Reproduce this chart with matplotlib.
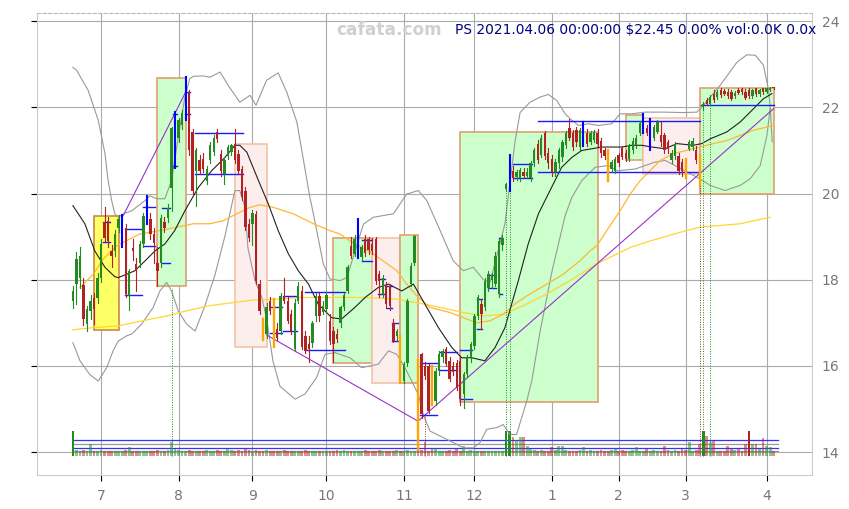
import matplotlib
matplotlib.use('Agg')
import matplotlib.pyplot as plt
import numpy as np
from matplotlib.patches import Rectangle

# ---------------- data ----------------
opens = [17.51,17.90,18.05,17.88,16.98,17.28,17.58,17.58,18.05,19.33,
         19.37,18.67,18.67,19.20,18.79,19.19,17.63,18.74,18.37,18.40,
         18.84,19.42,19.42,19.07,18.40,18.40,19.33,19.44,20.14,20.65,
         21.30,21.60,21.80,22.33,21.43,20.53,20.77,20.81,20.30,20.77,
         20.97,21.43,20.92,20.46,20.88,20.96,21.16,20.92,20.57,20.07,
         19.30,19.30,19.53,17.90,16.90,16.74,17.51,17.43,16.85,16.81,
         17.63,17.51,17.20,16.39,17.51,17.74,16.70,16.50,16.54,17.16,
         17.63,17.26,17.32,17.05,16.81,16.74,17.00,17.36,17.74,18.79,
         18.60,18.52,18.52,18.95,18.95,18.83,18.95,18.13,17.67,17.86,
         17.86,17.00,16.70,16.62,15.65,16.08,17.90,18.40,16.08,16.27,
         16.00,16.00,15.95,15.19,15.88,16.20,16.40,16.12,16.00,16.08,
         16.12,15.35,15.81,16.20,16.47,17.16,17.44,17.36,17.82,18.00,
         17.90,17.67,18.80,20.10,20.10,20.53,20.38,20.35,20.50,20.40,
         20.37,20.70,21.16,20.90,21.40,20.95,20.81,20.50,20.70,20.84,
         21.12,21.51,21.40,21.47,21.07,21.12,21.40,21.20,21.25,21.40,
         21.23,21.00,20.96,20.57,20.53,20.90,21.05,20.95,20.81,21.00,
         21.12,21.40,21.47,21.53,21.05,21.30,21.43,21.35,21.35,21.19,
         20.77,20.88,20.88,20.73,20.73,21.04,21.08,21.00,20.84,22.00,
         22.16,22.09,22.32,22.24,22.40,22.38,22.36,22.36,22.26,22.40,
         22.42,22.36,22.40,22.26,22.44,22.30,22.44,22.36,22.40,22.47]
highs = [17.85,18.64,18.75,18.05,17.40,17.65,17.70,18.15,18.95,19.68,
         19.45,18.80,19.15,19.50,19.50,19.30,18.25,18.95,18.50,18.90,
         19.55,19.95,19.55,19.20,18.75,19.50,19.45,19.75,21.55,21.90,
         21.75,21.95,22.70,22.40,21.50,21.05,20.90,20.95,20.65,21.20,
         21.35,21.50,21.00,20.85,21.12,21.16,21.50,21.00,20.65,20.15,
         19.40,19.62,19.60,18.00,17.10,17.45,17.60,17.55,17.00,17.70,
         18.05,17.60,17.30,17.55,17.95,17.85,16.80,16.70,17.05,17.70,
         17.70,17.50,17.72,17.20,16.90,16.85,17.40,17.70,18.35,19.00,
         19.05,19.40,18.80,19.05,19.00,18.97,19.00,18.20,18.10,17.95,
         17.90,17.10,16.85,16.70,16.10,17.55,18.40,19.04,16.15,16.30,
         16.10,16.05,16.00,15.95,16.35,16.40,16.45,16.20,16.10,16.15,
         16.20,15.85,16.25,16.55,17.20,17.65,17.55,18.05,18.20,18.15,
         18.65,18.95,19.05,20.25,20.90,20.65,20.55,20.60,20.60,20.60,
         20.75,21.05,21.25,21.35,21.45,21.05,20.90,20.80,21.05,21.25,
         21.45,21.74,21.48,21.55,21.52,21.65,21.50,21.45,21.47,21.50,
         21.30,21.05,21.00,20.78,20.85,20.95,21.10,21.00,21.15,21.28,
         21.35,21.68,21.85,21.60,21.72,21.58,21.70,21.66,21.40,21.25,
         21.00,21.20,20.95,20.80,20.80,21.25,21.28,21.10,20.90,22.12,
         22.22,22.28,22.40,22.40,22.45,22.42,22.42,22.40,22.38,22.44,
         22.46,22.42,22.44,22.42,22.46,22.42,22.46,22.46,22.48,22.48]
lows = [17.35,17.44,17.80,16.95,16.80,17.10,16.98,17.45,17.95,18.90,
        18.75,18.30,18.55,19.10,18.75,17.60,17.30,18.45,17.74,18.30,
        18.75,19.30,18.95,18.40,17.86,18.30,19.10,19.35,19.60,20.60,
        21.20,21.50,21.70,20.90,20.00,19.72,20.45,20.50,20.23,20.70,
        20.90,21.20,20.40,20.23,20.80,20.90,20.70,20.45,19.85,19.15,
        18.90,18.80,17.90,17.20,16.60,16.65,17.20,16.45,16.60,16.75,
        17.45,17.00,16.75,16.35,17.45,16.40,16.30,16.10,16.45,17.05,
        17.05,17.20,17.25,16.50,16.10,16.55,16.90,17.30,17.70,18.50,
        18.55,18.50,18.45,18.55,18.60,18.60,17.90,17.60,17.60,17.35,
        17.30,16.55,16.60,15.60,15.60,16.00,17.85,18.35,14.05,14.80,
        15.70,14.90,15.10,15.10,15.80,16.10,16.00,15.65,15.80,15.45,
        15.10,15.03,15.75,16.10,16.40,17.10,16.85,17.30,17.75,17.80,
        17.85,17.60,18.70,20.05,20.05,20.30,20.32,20.30,20.35,20.35,
        20.30,20.65,20.70,20.85,20.80,20.60,20.40,20.40,20.60,20.75,
        21.05,21.25,21.00,21.10,21.00,21.10,21.10,21.15,21.20,21.10,
        20.85,20.80,20.30,20.50,20.48,20.65,20.80,20.75,20.75,20.95,
        21.05,21.35,21.40,21.35,21.00,21.25,21.40,21.10,20.95,20.95,
        20.70,20.80,20.45,20.40,20.35,21.00,21.00,20.70,20.20,21.95,
        22.05,22.05,22.12,22.20,22.25,22.28,22.22,22.18,22.22,22.30,
        22.30,22.20,22.22,22.22,22.26,22.26,22.32,22.33,22.38,22.43]
closes = [17.74,18.48,18.55,17.09,17.33,17.51,17.33,18.05,18.84,18.98,
          18.90,18.56,19.07,19.42,19.45,17.67,18.20,18.67,18.20,18.84,
          19.49,19.90,19.07,18.86,18.20,19.44,19.19,19.67,21.53,21.86,
          21.70,21.86,22.50,21.00,20.07,21.00,20.53,20.57,20.57,21.12,
          21.28,21.27,20.53,20.77,21.08,21.12,20.77,20.53,19.91,19.22,
          18.98,19.56,17.98,17.28,16.66,17.36,17.28,16.50,16.66,17.63,
          17.51,17.05,16.81,17.47,17.86,16.43,16.35,16.39,17.00,17.63,
          17.16,17.40,17.65,16.58,16.50,16.62,17.36,17.65,18.29,18.56,
          18.95,19.33,18.75,18.63,18.70,18.67,17.98,17.98,18.05,17.43,
          17.40,16.58,16.81,15.61,16.04,17.51,18.33,19.02,14.50,14.88,
          15.77,14.95,15.15,15.88,16.28,16.35,16.05,15.70,15.85,15.50,
          15.23,15.81,16.19,16.50,17.16,17.59,17.20,17.98,18.14,18.10,
          18.56,18.90,18.98,20.22,20.88,20.35,20.50,20.55,20.40,20.50,
          20.70,21.00,20.77,21.30,20.88,20.70,20.49,20.73,21.00,21.19,
          21.40,21.30,21.07,21.19,21.47,21.63,21.16,21.40,21.42,21.16,
          20.93,20.88,20.35,20.73,20.81,20.70,20.84,20.80,21.12,21.23,
          21.30,21.63,21.81,21.40,21.70,21.54,21.66,21.19,21.00,21.04,
          20.93,21.16,20.53,20.53,20.47,21.19,21.23,20.77,20.49,22.09,
          22.09,22.24,22.16,22.36,22.28,22.32,22.26,22.20,22.34,22.34,
          22.36,22.22,22.26,22.40,22.30,22.40,22.36,22.44,22.46,22.45]
volumes = [26,7,6,7,6,12.7,6,6,7,6,6,5,6,6,6,7,9.7,6,6,6,
           5,6,6,6,7,6,6,7,14.3,8,7,6,6,7,6,6,6,5,7,6,
           6,7,6,6,8,7,6,7,6,8,7,6,7,6,6,7,6,6,6,5,
           7,6,6,5,6,6,7,6,6,5,6,6,6,5,6,7,6,7,6,6,
           5,6,6,7,6,6,6,7,6,6,6,6,7,6,6,7,6,6,8,7,
           14.3,6,7.7,8.3,6,6,5,7,6,7.5,6,10.7,6,7,6,6,5,6,6,6,
           6,5,6,26,26,19.3,16.7,19.3,19.3,11,8,7,6,7,6,5,10,7,11,11,
           7,6,5,6,7,10,6,7,6,6,7,6,5,7,8,6,7,6,6,7,
           10,6,5,7.5,6,7,6,6,11,7,6,7,6,7.5,7,15,6,7,12.7,26,
           21,14.3,16,6,5,6,11,7.5,7,7.5,6,12.7,26,12.7,12.7,8,18.7,11,10,6]
vol_solid = [0, 123, 124, 179, 192]
vol_ref_levels = [16.7, 12.7, 9.0, 5.3]
blue_bars = [14, 21, 29, 32, 81, 124, 145, 162, 164]
orange_bars = [54, 57, 93, 98, 102, 152, 174, 178]

month_idx = [8, 30, 51, 72, 94, 114, 136, 155, 174, 197]
month_lbl = ['7', '8', '9', '10', '11', '12', '1', '2', '3', '4']

# boxes: start idx, end idx, low, high, kind
box_start = [6, 24, 46, 74, 85, 93, 110, 157, 162, 178]
box_end = [13, 32, 55, 85, 93, 98, 149, 162, 178, 199]
box_low = [16.83, 17.86, 16.43, 16.08, 15.60, 15.60, 15.17, 20.77, 20.46, 19.99]
box_high = [19.49, 22.69, 21.16, 18.97, 18.97, 19.04, 21.42, 21.83, 21.75, 22.46]
box_kind = ['y', 'g', 'p', 'g', 'p', 'g', 'g', 'g', 'p', 'g']

blue_x0 = [8.5, 8.5, 14.8, 14.8, 20.0, 20.0, 25.2, 25.2, 28.5, 28.5, 31.8, 31.8,
           34.7, 34.7, 56.0, 56.0, 59.7, 59.7, 65.9, 65.9, 82.0, 82.0, 86.7, 86.7,
           89.1, 89.1, 90.7, 90.7, 98.6, 98.6, 104.3, 104.3, 110.0, 110.0,
           114.9, 114.9, 117.8, 117.8, 121.0, 121.0, 125.1, 125.1, 132.1, 132.1, 178.4]
blue_x1 = [10.5, 10.5, 19.5, 19.5, 23.3, 23.3, 27.6, 27.6, 29.5, 29.5, 33.2, 33.2,
           48.4, 48.4, 59.3, 59.3, 63.5, 63.5, 77.3, 77.3, 84.9, 84.9, 88.6, 88.6,
           90.7, 90.7, 92.2, 92.2, 103.3, 103.3, 109.0, 109.0, 113.3, 113.3,
           116.1, 116.1, 120.2, 120.2, 122.0, 122.0, 130.3, 130.3, 178.1, 178.1, 199.1]
blue_y = [19.33, 18.87, 19.18, 17.64, 19.70, 18.79, 19.66, 18.40, 21.85, 20.65, 22.36, 21.85,
          21.41, 20.46, 17.36, 16.77, 17.63, 16.81, 17.72, 16.36, 18.93, 18.44, 18.02, 17.68,
          17.86, 17.34, 17.00, 16.58, 16.08, 14.86, 16.33, 15.90, 16.36, 15.23,
          17.55, 16.85, 18.11, 17.81, 18.98, 17.67, 20.69, 20.36, 21.68, 20.51, 22.06]

zz1_idx = [14.3, 32.3]
zz1_val = [19.49, 22.40]
zz2_idx = [55, 98, 199]
zz2_val = [16.72, 14.72, 21.97]

dot_idx = [28, 100, 123, 124, 178, 179, 181]
dot_top = [17.82, 14.87, 20.05, 20.05, 20.20, 21.95, 22.05]
dot_kind = ['g', 'r', 'g', 'g', 'r', 'g', 'g']

ma_fast_idx = [0, 3.4, 6.2, 9.1, 11.9, 12.9, 15.3, 17.6, 20.5, 23.3, 26.1, 28.9, 31.8, 35.6,
               39.4, 43.2, 46.0, 47.4, 49.4, 52.7, 55.5, 58.3, 61.2, 64.0, 66.9, 69.7, 73.5,
               76.3, 80.1, 83.0, 86.7, 89.6, 93.4, 96.7, 98.1, 100.0, 103.8, 107.6, 110.4,
               113.3, 117.0, 119.9, 122.7, 126.5, 129.3, 132.2, 135.0, 138.8, 141.7, 144.5,
               147.4, 150.2, 155.9, 158.7, 161.6, 164.4, 168.2, 171.5, 176.2, 178.6, 181.0,
               185.7, 189.5, 193.3, 196.1, 198.5]
ma_fast_val = [19.72, 19.30, 18.67, 18.29, 18.07, 18.05, 18.13, 18.21, 18.44, 18.67, 18.83,
               19.14, 19.60, 20.14, 20.53, 20.84, 21.12, 21.12, 20.96, 20.30, 19.76, 19.14,
               18.60, 18.21, 17.90, 17.43, 17.12, 17.09, 17.36, 17.59, 17.82, 17.90, 17.74,
               17.90, 17.70, 17.43, 16.89, 16.43, 16.19, 16.19, 16.12, 16.43, 16.89, 17.98,
               18.83, 19.53, 19.99, 20.61, 20.84, 21.00, 21.04, 21.08, 21.08, 21.12, 21.12,
               21.08, 21.04, 21.16, 21.12, 21.16, 21.27, 21.43, 21.66, 21.97, 22.20, 22.32]

ma_mid_idx = [2, 5.8, 8.6, 12.4, 15.3, 19.0, 24.7, 29.5, 34.2, 38.9, 42.7, 46.5, 50.3, 53.1,
              56.9, 62.6, 68.3, 73.0, 75.9, 78.7, 85.3, 92.0, 94.8, 97.6, 101.4, 107.1, 110.9,
              114.7, 118.5, 122.2, 126.0, 129.8, 134.6, 139.3, 144.0, 146.9, 148.8, 151.6,
              155.4, 158.3, 161.1, 163.9, 166.8, 170.6, 174.3, 178.1, 181.9, 185.7, 189.5,
              193.3, 199.0]
ma_mid_val = [17.82, 18.13, 18.48, 18.79, 18.91, 19.06, 19.14, 19.22, 19.30, 19.30, 19.37,
              19.53, 19.68, 19.74, 19.68, 19.53, 19.30, 19.14, 19.06, 18.90, 18.60, 18.21,
              17.90, 17.63, 17.36, 17.24, 17.12, 17.00, 17.05, 17.20, 17.47, 17.67, 17.90,
              18.13, 18.44, 18.67, 18.79, 19.14, 19.60, 19.99, 20.30, 20.53, 20.77, 20.93,
              21.00, 21.08, 21.16, 21.23, 21.35, 21.47, 21.58]

ma_slow_idx = [0, 5.8, 12.9, 19.9, 26.6, 32.3, 38.9, 45.5, 51.2, 57.9, 64.5, 72.1, 82.5,
               91.9, 97.6, 104.3, 110.9, 116.6, 122.2, 127.9, 134.6, 141.2, 148.8, 153.5,
               158.3, 163.9, 172.4, 178.1, 189.5, 198.0]
ma_slow_val = [16.84, 16.89, 16.93, 17.05, 17.16, 17.28, 17.40, 17.47, 17.53, 17.55, 17.59,
               17.59, 17.59, 17.55, 17.47, 17.36, 17.24, 17.16, 17.20, 17.40, 17.67, 17.98,
               18.37, 18.56, 18.75, 18.90, 19.10, 19.22, 19.30, 19.45]

bb_up_idx = [0, 1.05, 4.3, 7.2, 9.1, 10.0, 11.0, 11.9, 12.9, 14.3, 16.7, 20.5, 21.9, 23.8,
             26.1, 28.0, 29.9, 31.8, 33.2, 34.2, 37.0, 38.9, 41.8, 44.1, 47.4, 50.3, 52.0,
             55.0, 58.3, 60.7, 63.6, 67.3, 68.3, 71.1, 73.0, 75.9, 77.8, 82.5, 85.3, 91.0,
             94.8, 98.1, 100.5, 104.3, 108.0, 110.9, 113.7, 116.6, 118.5, 120.2, 122.7,
             125.6, 127.0, 129.8, 132.7, 135.0, 137.4, 139.8, 141.7, 143.6, 146.4, 149.2,
             153.0, 155.4, 158.7, 162.5, 167.7, 173.4, 177.2, 179.1, 183.8, 188.6, 191.4,
             193.8, 196.1, 197.5, 198.0, 198.6]
bb_up_val = [22.93, 22.86, 22.40, 21.70, 20.93, 20.30, 19.84, 19.53, 19.45, 19.53, 19.60,
             19.84, 19.95, 19.88, 19.88, 20.30, 21.30, 22.24, 22.67, 22.72, 22.73, 22.70,
             22.82, 22.51, 22.12, 22.28, 22.05, 22.63, 22.80, 22.36, 21.66, 19.91, 19.53,
             18.37, 18.02, 17.98, 18.05, 19.29, 19.45, 19.53, 19.99, 20.07, 19.84, 19.14,
             18.44, 18.21, 18.29, 18.00, 17.95, 18.50, 19.30, 21.23, 21.88, 22.12, 22.24,
             22.30, 22.16, 21.85, 21.70, 21.58, 21.62, 21.58, 21.62, 21.85, 21.85, 21.89,
             21.89, 21.88, 21.89, 22.05, 22.51, 23.05, 23.22, 23.21, 22.98, 22.43, 22.05,
             21.20]
bb_lo_idx = [0, 2, 4.8, 7.2, 9.6, 11.4, 12.9, 15.3, 16.7, 19.5, 22.8, 24.7, 26.6, 28.0,
             29.9, 32.3, 34.7, 37.5, 40.3, 43.2, 46.0, 47.4, 48.9, 49.7, 51.7, 53.7, 55.1,
             56.8, 58.8, 63.1, 65.9, 69.2, 71.6, 74.4, 78.7, 82.0, 86.7, 89.6, 92.0, 94.3,
             98.1, 99.5, 101.4, 107.1, 110.9, 113.7, 115.6, 117.5, 120.4, 122.2, 124.1,
             126.0, 128.9, 130.3, 132.7, 136.1, 139.8, 141.7, 144.5, 148.3, 152.1, 154.5,
             159.7, 162.5, 165.3, 168.2, 178.1, 181.0, 185.2, 189.5, 192.3, 195.2, 197.1, 198.0]
bb_lo_val = [16.54, 16.12, 15.80, 15.65, 15.96, 16.35, 16.58, 16.70, 16.74, 16.97, 17.36,
             17.74, 17.94, 17.74, 17.28, 16.97, 16.81, 17.40, 18.10, 19.02, 20.07, 20.07,
             19.67, 18.74, 17.98, 17.58, 17.05, 16.12, 15.53, 15.23, 15.35, 15.73, 16.27,
             16.31, 16.19, 15.96, 16.04, 16.35, 16.27, 15.96, 15.34, 14.87, 14.49, 14.26,
             14.10, 14.10, 14.22, 14.53, 14.57, 14.64, 14.41, 14.41, 15.19, 15.65, 16.81,
             18.21, 19.49, 19.91, 20.30, 20.61, 20.65, 20.53, 20.57, 20.65, 20.73, 20.77,
             20.34, 20.19, 20.07, 20.19, 20.34, 20.65, 21.35, 21.97]

title_txt = 'PS 2021.04.06 00:00:00 $22.45 0.00% vol:0.0K 0.0x'
watermark = 'cafata.com'

# ---------------- drawing ----------------
W, H = 849, 509
fig = plt.figure(figsize=(W / 100, H / 100), dpi=100)
ax = fig.add_axes([37 / W, 34 / H, 775 / W, 462 / H])
ax.set_xlim(-10.2, 209.9)
ax.set_ylim(13.47, 24.19)

GREEN = '#228B22'
RED = '#B22222'

# boxes
fills = {'y': '#ffff66', 'g': '#ccffcc', 'p': '#fdeeee'}
edges = {'y': '#cc8844', 'g': '#dfa070', 'p': '#f2c4a8'}
for s, e, lo, hi, k in zip(box_start, box_end, box_low, box_high, box_kind):
    ax.add_patch(Rectangle((s, lo), e - s, hi - lo, facecolor=fills[k],
                           edgecolor=edges[k], lw=1.2, zorder=1))

# volume
vscale = 0.6 / max(volumes)
vbase = 13.9
for lv, c in zip(vol_ref_levels, ['#3333ff', '#999999', '#3333ff', '#999999']):
    ax.plot([0, 200.3], [vbase + lv * vscale] * 2, color=c, lw=0.9, zorder=2)
for i, v in enumerate(volumes):
    up = closes[i] >= opens[i]
    col = GREEN if up else RED
    a = 1.0 if i in vol_solid else 0.5
    ax.bar(i, v * vscale, bottom=vbase, width=0.8, color=col, alpha=a,
           lw=0, zorder=3)

# indicator lines
ax.plot(bb_up_idx, bb_up_val, color='#999999', lw=0.8, zorder=3)
ax.plot(bb_lo_idx, bb_lo_val, color='#999999', lw=0.8, zorder=3)
ax.plot(ma_slow_idx, ma_slow_val, color='#ffd633', lw=0.9, zorder=3)
ax.plot(ma_mid_idx, ma_mid_val, color='#ffb733', lw=0.9, zorder=3)
ax.plot(ma_fast_idx, ma_fast_val, color='#222222', lw=0.8, zorder=3)

# zigzag
ax.plot(zz1_idx, zz1_val, color='#9932cc', lw=0.8, zorder=4)
ax.plot(zz2_idx, zz2_val, color='#9932cc', lw=0.8, zorder=4)

# dotted verticals
for i, t, k in zip(dot_idx, dot_top, dot_kind):
    ax.plot([i, i], [vbase, t], color=(GREEN if k == 'g' else RED), lw=0.7,
            ls=(0, (1, 1.5)), zorder=3)

# blue range lines
for x0, x1, y in zip(blue_x0, blue_x1, blue_y):
    ax.plot([x0, x1], [y, y], color='#1a1aff', lw=1.0, zorder=5)

# candles
for i in range(len(opens)):
    o, h, l, c = opens[i], highs[i], lows[i], closes[i]
    if i in blue_bars:
        ax.plot([i, i], [l, h], color='#0000ff', lw=1.5, zorder=7)
        continue
    if i in orange_bars:
        ax.plot([i, i], [l, h], color='#ffa500', lw=1.7, zorder=7)
        continue
    col = GREEN if c >= o else RED
    ax.plot([i, i], [l, h], color=col, lw=0.8, zorder=6)
    ax.bar(i, max(abs(c - o), 0.02), bottom=min(o, c), width=0.68, color=col,
           lw=0, zorder=6)

# axes styling
ax.set_xticks(month_idx)
ax.set_xticklabels(month_lbl)
ax.set_yticks([14, 16, 18, 20, 22, 24])
ax.grid(True, color='#aaaaaa', lw=0.8)
ax.set_axisbelow(True)
ax.tick_params(axis='y', left=True, right=False, labelleft=False, labelright=True,
               labelsize=10, labelcolor='#777777', length=4, pad=3)
ax.tick_params(axis='x', labelsize=10, labelcolor='#777777', length=4, pad=6)
for side in ['left', 'right', 'bottom']:
    ax.spines[side].set_color('#cccccc')
ax.spines['top'].set_color('#bbbbbb')
ax.spines['top'].set_linestyle((0, (3, 2)))

fig.text(389 / W, 1 - 30 / H, watermark, ha='center', va='center', fontsize=12.2,
         weight='bold', color='#d0d0d0')
fig.text(816 / W, 1 - 30.5 / H, title_txt, ha='right', va='center', fontsize=9.9,
         color='#000080')

fig.savefig('out.png', dpi=100)
